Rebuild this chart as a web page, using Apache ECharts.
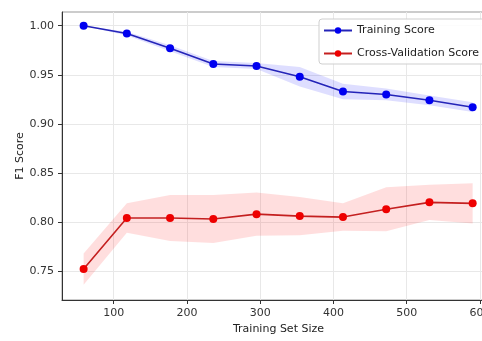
<!DOCTYPE html>
<html>
<head>
<meta charset="utf-8">
<script src="https://cdn.jsdelivr.net/npm/echarts@6/dist/echarts.min.js"></script>
<style>html,body{margin:0;padding:0;background:#fff}#c{width:482px;height:341px}</style>
</head>
<body>
<div id="c"></div>
<script>
var trainSizes = [59, 118, 177, 236, 295, 354, 413, 472, 531, 590];
var trainMean = [1.000, 0.992, 0.977, 0.961, 0.959, 0.948, 0.933, 0.930, 0.924, 0.917];
var trainStd  = [0.000, 0.002, 0.003, 0.003, 0.003, 0.010, 0.008, 0.006, 0.005, 0.005];
var cvMean = [0.752, 0.804, 0.804, 0.803, 0.808, 0.806, 0.805, 0.813, 0.820, 0.819];
var cvStd  = [0.016, 0.015, 0.0235, 0.0245, 0.022, 0.0195, 0.014, 0.0225, 0.018, 0.0205];
var xTicks = [100, 200, 300, 400, 500, 600];
var yTicks = [0.75, 0.80, 0.85, 0.90, 0.95, 1.00];

function pairs(xs, ys) { return xs.map(function (x, i) { return [x, ys[i]]; }); }

function bandSeries(mean, std, fill) {
  return {
    type: 'custom', silent: true, z: 1, data: [0],
    renderItem: function (params, api) {
      var up = [], lo = [];
      for (var i = 0; i < trainSizes.length; i++) {
        up.push(api.coord([trainSizes[i], mean[i] + std[i]]));
        lo.unshift(api.coord([trainSizes[i], mean[i] - std[i]]));
      }
      return { type: 'polygon', shape: { points: up.concat(lo) }, style: { fill: fill } };
    }
  };
}

var font = 'DejaVu Sans';
var chart = echarts.init(document.getElementById('c'), null, { renderer: 'canvas' });
chart.setOption({
  animation: false,
  backgroundColor: '#fff',
  grid: { left: 62, top: 12, width: 433, height: 288, show: true, borderColor: '#999', borderWidth: 1,
    outerBoundsMode: 'none', containLabel: false },
  legend: {
    data: ['Training Score', 'Cross-Validation Score'],
    orient: 'vertical', left: 319, top: 19,
    itemWidth: 28, itemHeight: 8, itemGap: 12,
    padding: [6, 30, 5, 4],
    borderColor: '#cfcfcf', borderWidth: 1, borderRadius: 3,
    backgroundColor: 'rgba(255,255,255,0.85)',
    textStyle: { fontFamily: font, fontSize: 11, color: '#222' }
  },
  xAxis: {
    type: 'value', min: 29.5, max: 620.5,
    name: 'Training Set Size', nameLocation: 'middle', nameGap: 19,
    nameTextStyle: { fontFamily: font, fontSize: 11, color: '#222' },
    axisLine: { show: true, lineStyle: { color: '#333', width: 1 } },
    axisTick: { show: true, length: 4, customValues: xTicks, lineStyle: { color: '#333' } },
    axisLabel: { customValues: xTicks, margin: 8, fontFamily: font, fontSize: 11, color: '#333' },
    splitLine: { show: true, lineStyle: { color: '#e8e8e8', width: 1 } }
  },
  yAxis: {
    type: 'value', min: 0.7205, max: 1.014,
    name: 'F1 Score', nameLocation: 'middle', nameGap: 36, nameMoveOverlap: false,
    nameTextStyle: { fontFamily: font, fontSize: 11, color: '#222' },
    axisLine: { show: true, lineStyle: { color: '#333', width: 1 } },
    axisTick: { show: true, length: 4, customValues: yTicks, lineStyle: { color: '#333' } },
    axisLabel: { customValues: yTicks, margin: 8, fontFamily: font, fontSize: 11, color: '#333',
      formatter: function (v) { return v.toFixed(2); } },
    splitLine: { show: true, lineStyle: { color: '#e8e8e8', width: 1 } }
  },
  series: [
    bandSeries(trainMean, trainStd, 'rgba(0,0,255,0.13)'),
    bandSeries(cvMean, cvStd, 'rgba(255,0,0,0.13)'),
    { name: 'Training Score', type: 'line', data: pairs(trainSizes, trainMean),
      symbol: 'circle', symbolSize: 8, itemStyle: { color: '#0000f0' },
      lineStyle: { color: '#2424b8', width: 1.6 }, z: 3 },
    { name: 'Cross-Validation Score', type: 'line', data: pairs(trainSizes, cvMean),
      symbol: 'circle', symbolSize: 8, itemStyle: { color: '#ee0000' },
      lineStyle: { color: '#c42020', width: 1.6 }, z: 3 }
  ]
});
</script>
</body>
</html>
